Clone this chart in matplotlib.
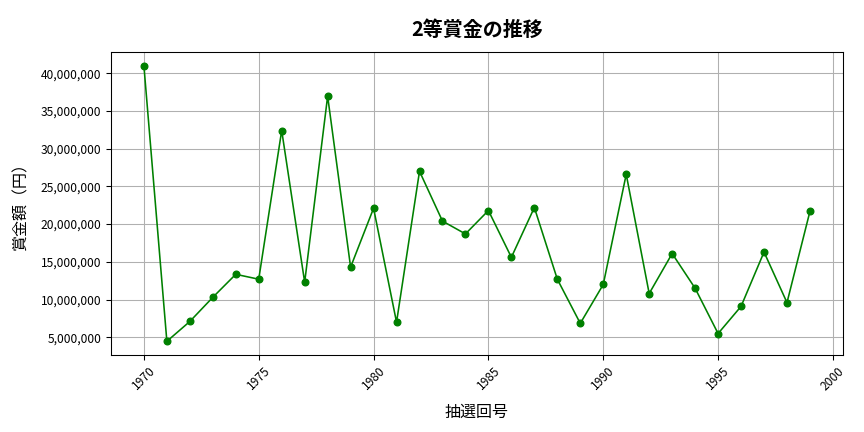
import matplotlib
matplotlib.use("Agg")
import matplotlib.pyplot as plt
from matplotlib.ticker import FuncFormatter

plt.rcParams['font.family'] = ['Noto Sans CJK JP', 'DejaVu Sans']

years = list(range(1970, 2000))
prizes = [41.0e6, 4.47e6, 7.1e6, 10.3e6, 13.35e6, 12.7e6, 32.4e6, 12.3e6, 36.95e6, 14.3e6,
          22.1e6, 7.0e6, 27.0e6, 20.4e6, 18.7e6, 21.8e6, 15.6e6, 22.2e6, 12.7e6, 6.85e6,
          12.0e6, 26.6e6, 10.8e6, 16.1e6, 11.5e6, 5.5e6, 9.1e6, 16.3e6, 9.6e6, 21.7e6]

fig, ax = plt.subplots(figsize=(9, 4.5), dpi=96)
fig.subplots_adjust(left=0.128, right=0.976, top=0.88, bottom=0.178)
ax.plot(years, prizes, color='green', marker='o', markersize=5, linewidth=1.2)
ax.set_title('2等賞金の推移', fontsize=15, pad=12, fontweight='bold')
ax.set_xlabel('抽選回号', fontsize=12, labelpad=8)
ax.set_ylabel('賞金額（円）', fontsize=12, labelpad=8)
ax.yaxis.set_major_formatter(FuncFormatter(lambda v, p: f'{int(v):,}'))
ax.set_yticks([5e6, 10e6, 15e6, 20e6, 25e6, 30e6, 35e6, 40e6])
ax.set_xticks([1970, 1975, 1980, 1985, 1990, 1995, 2000])
plt.setp(ax.get_xticklabels(), rotation=45)
ax.tick_params(labelsize=9)
ax.grid(True, color='#b0b0b0', linewidth=0.8)
fig.savefig('out.png')
